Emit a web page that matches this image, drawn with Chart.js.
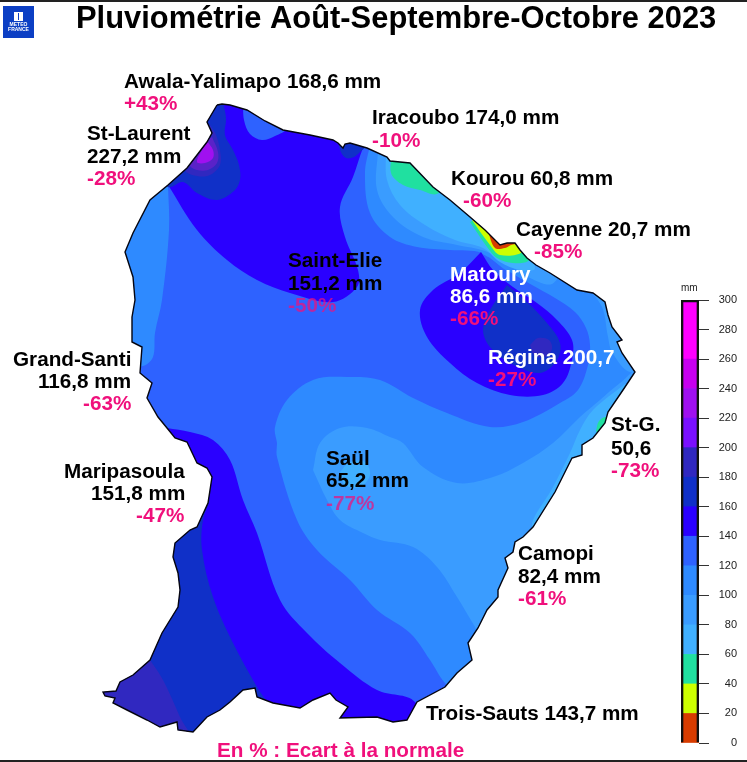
<!DOCTYPE html>
<html lang="fr">
<head>
<meta charset="utf-8">
<title>Pluviométrie Août-Septembre-Octobre 2023</title>
<script src="https://cdn.jsdelivr.net/npm/chart.js@4"></script>
<style>
	html, body { margin: 0; background: #fff; }
	#page { position: relative; width: 747px; height: 762px; overflow: hidden; }
	canvas { position: absolute; }
	#map { left: 0; top: 0; }
	#scale { left: 660px; top: 280px; }
</style>
</head>
<body>
<div id="page">
	<canvas id="map" width="747" height="762"></canvas>
	<canvas id="scale" width="87" height="482"></canvas>
</div>
<script>
const chartTitle = "Pluviométrie Août-Septembre-Octobre 2023";
const footNote = "En % : Ecart à la normale";
const scaleUnit = "mm";

// stations
const stationNames = ["Awala-Yalimapo", "Iracoubo", "St-Laurent", "Kourou", "Cayenne", "Saint-Elie", "Matoury", "Régina", "Grand-Santi", "St-G.", "Maripasoula", "Saül", "Camopi", "Trois-Sauts"];
const stationRain = ["168,6", "174,0", "227,2", "60,8", "20,7", "151,2", "86,6", "200,7", "116,8", "50,6", "151,8", "65,2", "82,4", "143,7"];
const stationUnits = [" mm", " mm", " mm", " mm", " mm", " mm", " mm", "", " mm", "", " mm", " mm", " mm", " mm"];
const stationDeviation = ["+43%", "-10%", "-28%", "-60%", "-85%", "-50%", "-66%", "-27%", "-63%", "-73%", "-47%", "-77%", "-61%", null];

// rain classes of the colour bar, in mm
const classLow = [0, 20, 40, 60, 80, 100, 120, 140, 160, 180, 200, 220, 240, 260];
const classHigh = [20, 40, 60, 80, 100, 120, 140, 160, 180, 200, 220, 240, 260, 300];
const scaleMax = 300;
const scaleStep = 20;

// map outline and iso-rain contours, in picture coordinates
const outline = [[217,105],[222,104],[230,105],[247,110],[265,121],[283,130],[310,135],[333,140],[338,143],[343,148],[345,144],[350,143],[367,148],[387,157],[390,161],[410,163],[433,187],[450,200],[470,217],[485,230],[500,245],[507,243],[515,243],[520,250],[527,258],[536,265],[550,273],[577,290],[593,293],[605,302],[608,315],[612,327],[622,340],[617,342],[622,353],[635,372],[623,390],[608,412],[605,423],[593,438],[582,445],[582,455],[572,458],[555,492],[533,527],[523,537],[515,542],[513,552],[505,558],[508,568],[498,590],[498,597],[487,610],[478,628],[468,643],[472,660],[457,673],[445,687],[417,702],[407,720],[393,722],[377,717],[340,718],[348,707],[336,700],[330,693],[313,700],[300,708],[273,703],[257,697],[255,688],[243,690],[230,702],[220,710],[207,717],[193,732],[178,730],[177,722],[160,727],[147,720],[127,710],[113,703],[115,698],[105,696],[103,692],[116,691],[120,682],[133,675],[150,660],[162,633],[178,607],[180,590],[178,573],[173,557],[175,543],[190,530],[197,527],[208,503],[212,477],[207,468],[197,463],[187,442],[175,438],[167,428],[158,417],[147,398],[152,383],[140,373],[142,347],[132,342],[132,317],[135,300],[133,277],[125,252],[133,233],[150,200],[168,185],[187,168],[207,142],[212,133],[207,122],[217,105]];
const westStrip = [[168,185],[169,230],[162,300],[155,333],[153,357],[143,366],[120,366],[110,250],[150,180]];
const coastBand1 = [[370,145],[365,173],[370,213],[390,237],[417,247],[450,250],[482,253],[510,272],[560,280],[540,230],[420,140]];
const coastBand2 = [[378,150],[377,190],[393,217],[423,237],[457,245],[485,251],[505,262],[530,278],[552,284],[560,265],[500,220],[420,145]];
const coastBand3 = [[386,150],[387,180],[400,205],[425,225],[455,240],[483,248],[500,262],[520,270],[535,268],[520,235],[450,180]];
const kourouGreen = [[393,150],[391,173],[403,185],[420,190],[437,194],[445,180],[410,150]];
const cayenneGreen = [[470,222],[487,247],[497,258],[513,263],[529,260],[526,240],[490,215]];
const cayenneYellow = [[472,220],[490,245],[500,255],[522,252],[520,235],[490,220]];
const cayenneRed = [[488,232],[495,248],[505,248],[511,245],[518,243],[512,236],[503,244]];
const middleBlob = [[277,443],[275,427],[287,400],[313,380],[347,377],[380,380],[413,398],[447,413],[490,427],[523,422],[560,403],[578,390],[588,365],[590,345],[586,328],[575,312],[555,298],[532,285],[510,272],[490,258],[482,252],[500,235],[600,270],[660,370],[650,420],[520,620],[470,705],[445,683],[430,660],[410,633],[377,610],[350,580],[317,550],[297,520],[277,457]];
const innerBlob = [[313,470],[320,443],[340,428],[367,428],[390,437],[403,443],[423,467],[457,483],[493,477],[523,463],[553,443],[580,417],[600,400],[620,383],[640,370],[660,420],[540,620],[480,635],[475,627],[457,597],[437,567],[413,547],[380,540],[363,533],[340,520],[327,500]];
const northeastLight = [[585,285],[602,307],[608,337],[612,352],[630,372],[650,360],[640,290]];
const saulSpot = [[340,472],[350,462],[365,462],[370,475],[360,487],[345,485]];
const eastStrip = [[625,384],[593,410],[580,430],[570,453],[553,487],[532,527],[560,530],[640,420],[645,385]];
const eastGreen = [[596,431],[599,421],[607,417],[610,426],[600,436]];
const northWest = [[168,185],[197,230],[227,260],[257,280],[290,293],[333,302],[357,287],[358,270],[345,237],[340,207],[353,177],[363,148],[372,130],[220,85],[190,130],[150,175]];
const coastPatch = [[243,100],[244,120],[250,134],[262,140],[275,136],[287,128],[285,105]];
const iracouboPatch = [[338,135],[340,150],[346,158],[354,157],[360,152],[365,146],[350,130]];
const awalaDark = [[222,98],[226,118],[225,135],[233,150],[239,165],[240,180],[234,191],[217,200],[197,193],[183,182],[168,187],[150,170],[200,95]];
const awalaPurple = [[210,125],[216,135],[220,150],[220,165],[210,175],[197,176],[185,170],[190,140]];
const awalaViolet = [[212,137],[218,152],[217,163],[208,170],[197,170],[190,165],[200,145]];
const awalaCore = [[207,141],[213,150],[213,158],[205,163],[197,162],[203,148]];
const matouryBlob = [[481,252],[460,273],[433,290],[420,310],[427,337],[450,363],[477,383],[510,395],[543,395],[563,383],[572,360],[572,340],[557,320],[537,303],[513,287],[493,270]];
const matouryDark = [[507,285],[490,310],[483,330],[490,347],[510,363],[540,373],[557,360],[560,343],[547,323],[528,303]];
const reginaCore = [[530,345],[538,338],[549,340],[552,349],[545,357],[534,355]];
const southBlue = [[167,428],[190,432],[213,440],[230,460],[243,500],[257,533],[280,600],[307,633],[340,663],[377,690],[415,702],[425,745],[150,750],[120,600],[150,430]];
const southDark = [[210,500],[203,520],[202,550],[213,597],[233,643],[257,687],[290,745],[90,745],[120,560],[180,500]];
const southPurple = [[150,660],[163,680],[180,717],[192,745],[90,745],[90,670]];

// colours
const classColors = ["#d83c00", "#ccff00", "#20e0a0", "#40b0ff", "#3a9cff", "#2e8aff", "#2e62ff", "#2a00ff", "#1030c8", "#3028c0", "#7a10ff", "#a010f0", "#c800f0", "#ff00ff"];
const BLACK = "#000";
const PINK = "#f0107c";
const PINK_ON_MAP = "rgba(240,16,124,0.72)";
const WHITE = "#fff";

// back to front; the value is the class of the colour list
const mapLayers = [
	[outline, classColors[6]],
	[westStrip, classColors[5]],
	[middleBlob, classColors[5]],
	[innerBlob, classColors[4]],
	[northeastLight, classColors[4]],
	[coastBand1, classColors[5]],
	[coastBand2, classColors[4]],
	[coastBand3, classColors[3]],
	[kourouGreen, classColors[2]],
	[cayenneGreen, classColors[2]],
	[cayenneYellow, classColors[1]],
	[cayenneRed, classColors[0]],
	[saulSpot, classColors[3]],
	[eastStrip, classColors[3]],
	[eastGreen, classColors[2]],
	[northWest, classColors[7]],
	[coastPatch, classColors[6]],
	[iracouboPatch, classColors[8]],
	[awalaDark, classColors[8]],
	[awalaPurple, classColors[9]],
	[awalaViolet, "#5a22c8"],
	[awalaCore, classColors[11]],
	[matouryBlob, classColors[7]],
	[matouryDark, classColors[8]],
	[reginaCore, classColors[9]],
	[southBlue, classColors[7]],
	[southDark, classColors[8]],
	[southPurple, classColors[9]]
];

// where each station's lines go: left edge and vertical centre
const stationLayout = [
	{ name: [124, 82], dev: [124, 104] },
	{ name: [372, 118], dev: [372, 141] },
	{ name: [87, 134], rain: [87, 157], dev: [87, 179] },
	{ name: [451, 179], dev: [463, 201] },
	{ name: [516, 230], dev: [534, 252] },
	{ name: [288, 261], rain: [288, 284], dev: [288, 306], soft: true },
	{ name: [450, 275], rain: [450, 297], dev: [450, 319], color: WHITE },
	{ name: [488, 358], dev: [488, 380], color: WHITE },
	{ name: [13, 360], rain: [38, 382], dev: [83, 404] },
	{ name: [611, 425], rain: [611, 449], dev: [611, 471] },
	{ name: [64, 472], rain: [91, 494], dev: [136, 516] },
	{ name: [326, 459], rain: [326, 481], dev: [326, 504], soft: true },
	{ name: [518, 554], rain: [518, 577], dev: [518, 599] },
	{ name: [426, 714] }
];

const toPoints = list => list.map(([x, y]) => ({ x, y }));
const closed = list => toPoints(list.concat([list[0]]));

function tracePolygon(chart, list) {
	const { x, y } = chart.scales;
	const ctx = chart.ctx;
	ctx.beginPath();
	list.forEach(([px, py], i) => {
		if (i === 0) {
			ctx.moveTo(x.getPixelForValue(px), y.getPixelForValue(py));
		} else {
			ctx.lineTo(x.getPixelForValue(px), y.getPixelForValue(py));
		}
	});
	ctx.closePath();
}

// every contour is cut to the outline, the outline itself is drawn last
const clipToOutline = {
	id: "clipToOutline",
	beforeDatasetsDraw(chart) {
		chart.ctx.save();
		tracePolygon(chart, outline);
		chart.ctx.clip();
	},
	beforeDatasetDraw(chart, args) {
		if (args.index === mapLayers.length) {
			chart.ctx.restore();
		}
	}
};

function drawText(chart, text, pos, font, color) {
	const { x, y } = chart.scales;
	const ctx = chart.ctx;
	ctx.font = font;
	ctx.fillStyle = color;
	ctx.textBaseline = "middle";
	ctx.fillText(text, x.getPixelForValue(pos[0]), y.getPixelForValue(pos[1]));
}

const LABEL_FONT = 'bold 20.7px "Liberation Sans", Arial, sans-serif';

const mapTexts = {
	id: "mapTexts",
	afterDraw(chart) {
		const ctx = chart.ctx;
		ctx.save();
		ctx.textAlign = "left";
		stationNames.forEach((name, i) => {
			const spot = stationLayout[i];
			const rain = stationRain[i] + stationUnits[i];
			const color = spot.color || BLACK;
			if (spot.rain) {
				drawText(chart, name, spot.name, LABEL_FONT, color);
				drawText(chart, rain, spot.rain, LABEL_FONT, color);
			} else {
				drawText(chart, `${name} ${rain}`, spot.name, LABEL_FONT, color);
			}
			if (spot.dev) {
				drawText(chart, stationDeviation[i], spot.dev, LABEL_FONT, spot.soft ? PINK_ON_MAP : PINK);
			}
		});
		drawText(chart, chartTitle, [76, 19], 'bold 30.9px "Liberation Sans", Arial, sans-serif', BLACK);
		drawText(chart, footNote, [217, 751], LABEL_FONT, PINK);
		drawText(chart, scaleUnit, [681, 288], '10px "Liberation Sans", Arial, sans-serif', "#222");

		// page edge and logo
		ctx.fillStyle = "#222";
		ctx.fillRect(0, 0, 747, 2);
		ctx.fillRect(0, 760, 747, 2);
		ctx.fillStyle = "#0c3fc4";
		ctx.fillRect(3, 6, 31, 32);
		ctx.fillStyle = WHITE;
		ctx.fillRect(14, 12, 9, 9);
		ctx.fillStyle = "#0c3fc4";
		ctx.fillRect(18, 13, 1, 7);
		ctx.textAlign = "center";
		drawText(chart, "METEO", [18.5, 25], 'bold 5px "Liberation Sans", Arial, sans-serif', WHITE);
		drawText(chart, "FRANCE", [18.5, 30], 'bold 5px "Liberation Sans", Arial, sans-serif', WHITE);
		ctx.restore();
	}
};

const mapDatasets = mapLayers.map(([list, color], i) => ({
	data: closed(list),
	showLine: true,
	backgroundColor: color,
	borderWidth: 0,
	pointRadius: 0,
	fill: "shape",
	tension: list === outline ? 0 : 0.35,
	order: mapLayers.length + 1 - i
}));
mapDatasets.push({
	data: closed(outline),
	showLine: true,
	borderColor: "#050510",
	borderWidth: 1.4,
	pointRadius: 0,
	fill: false,
	tension: 0,
	order: 0
});

new Chart(document.getElementById("map"), {
	type: "scatter",
	data: { datasets: mapDatasets },
	options: {
		responsive: false,
		animation: false,
		layout: { padding: 0 },
		scales: {
			x: { type: "linear", min: 0, max: 747, display: false },
			y: { type: "linear", min: 0, max: 762, reverse: true, display: false }
		},
		plugins: {
			legend: { display: false },
			tooltip: { enabled: false },
			filler: { drawTime: "beforeDatasetDraw" }
		}
	},
	plugins: [clipToOutline, mapTexts]
});

// colour bar: one floating bar per class, and one empty bar for the frame
const scaleDatasets = classLow.map((low, i) => ({
	data: [[low, classHigh[i]]],
	backgroundColor: classColors[i],
	borderWidth: 0,
	order: 1
}));
scaleDatasets.push({
	data: [[0, scaleMax]],
	backgroundColor: "transparent",
	borderColor: "#111",
	borderWidth: 2,
	order: 0
});

new Chart(document.getElementById("scale"), {
	type: "bar",
	data: { labels: [scaleUnit], datasets: scaleDatasets },
	options: {
		responsive: false,
		animation: false,
		layout: { padding: { left: 21, top: 20, bottom: 19, right: 10 } },
		datasets: { bar: { grouped: false, barPercentage: 1, categoryPercentage: 1 } },
		scales: {
			x: { display: false },
			y: {
				position: "right",
				min: 0,
				max: scaleMax,
				afterFit(scale) {
					scale.width = 38;
				},
				border: { display: false },
				grid: { drawOnChartArea: false, color: "#333", tickLength: 10, tickWidth: 1 },
				ticks: {
					stepSize: scaleStep,
					color: "#222",
					crossAlign: "far",
					padding: 0,
					font: { family: '"Liberation Sans", Arial, sans-serif', size: 11 }
				}
			}
		},
		plugins: {
			legend: { display: false },
			tooltip: { enabled: false }
		}
	}
});
</script>
</body>
</html>
